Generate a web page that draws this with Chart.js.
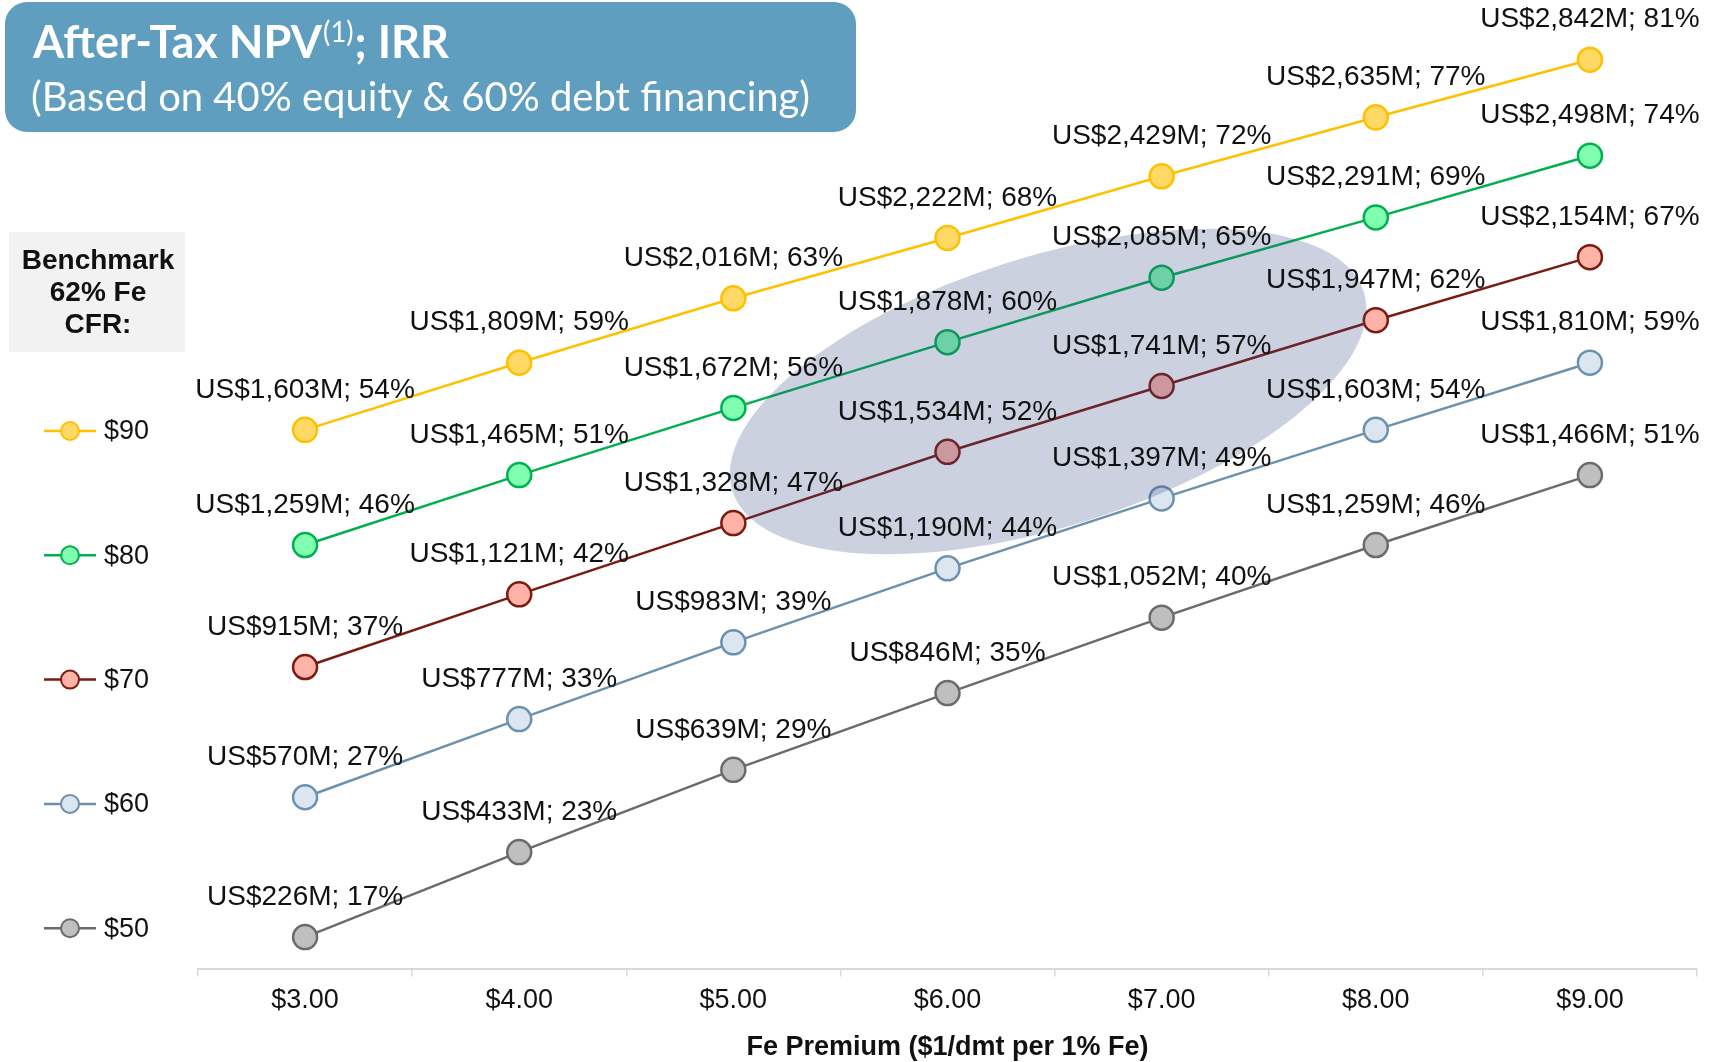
<!DOCTYPE html>
<html><head><meta charset="utf-8">
<script src="https://cdn.jsdelivr.net/npm/chart.js@4.4.1/dist/chart.umd.min.js"></script>
<style>html,body{margin:0;padding:0;background:#fff;} #wrap{width:1716px;height:1062px;position:relative;}</style>
</head><body><div id="wrap"><canvas id="c" width="1716" height="1062"></canvas></div>
<script>
// ---- data ----
const categories = ['$3.00','$4.00','$5.00','$6.00','$7.00','$8.00','$9.00'];
const seriesNames = ['$90','$80','$70','$60','$50'];

// After-tax NPV (US$M)
const npv90 = [1603,1809,2016,2222,2429,2635,2842];
const npv80 = [1259,1465,1672,1878,2085,2291,2498];
const npv70 = [915,1121,1328,1534,1741,1947,2154];
const npv60 = [570,777,983,1190,1397,1603,1810];
const npv50 = [226,433,639,846,1052,1259,1466];

// IRR (%) as printed in the labels
const irrLabel90 = [54,59,63,68,72,77,81];
const irrLabel80 = [46,51,56,60,65,69,74];
const irrLabel70 = [37,42,47,52,57,62,67];
const irrLabel60 = [27,33,39,44,49,54,59];
const irrLabel50 = [17,23,29,35,40,46,51];

// IRR (%) as plotted
const irrPlot90 = [54.0,58.9,63.6,68.0,72.5,76.8,81.0];
const irrPlot80 = [45.6,50.7,55.6,60.4,65.1,69.5,74.0];
const irrPlot70 = [36.7,42.0,47.2,52.4,57.2,62.0,66.6];
const irrPlot60 = [27.2,32.9,38.5,43.9,49.0,54.0,58.9];
const irrPlot50 = [17.0,23.2,29.2,34.8,40.3,45.6,50.7];

const titleLine1 = 'After-Tax NPV';
const titleSup = '(1)';
const titleLine1b = '; IRR';
const titleLine2 = '(Based on 40% equity & 60% debt financing)';
const legendTitle = ['Benchmark','62% Fe','CFR:'];
const xAxisTitle = 'Fe Premium ($1/dmt per 1% Fe)';

// highlighted zone (data coordinates: category index, IRR %)
const highlightCenter = [3.47, 56.8];

// ---- styling ----
const FONT = "'Liberation Sans', Arial, sans-serif";
const lineColors = ['#FFC000','#00B050','#7B1A0E','#6C91AF','#6B6B6B'];
const fillColors = ['#FFD966','#80FFB0','#FFB3A8','#DCE6F0','#BFBFBF'];

const npvs = [npv90,npv80,npv70,npv60,npv50];
const irrLabels = [irrLabel90,irrLabel80,irrLabel70,irrLabel60,irrLabel50];
const irrPlots = [irrPlot90,irrPlot80,irrPlot70,irrPlot60,irrPlot50];

const datasets = seriesNames.map((name, d) => ({
  label: name,
  data: irrPlots[d],
  borderColor: lineColors[d],
  backgroundColor: fillColors[d],
  pointBackgroundColor: fillColors[d],
  pointBorderColor: lineColors[d],
  pointRadius: 12,
  pointBorderWidth: 2.5,
  borderWidth: 2.5,
  tension: 0,
  clip: false
}));

const highlightPlugin = {
  id: 'highlight',
  afterDatasetsDraw(chart) {
    const {ctx} = chart;
    const xs = chart.scales.x, ys = chart.scales.y;
    const cx = xs.getPixelForValue(highlightCenter[0]);
    const cy = ys.getPixelForValue(highlightCenter[1]);
    ctx.save();
    ctx.beginPath();
    ctx.ellipse(cx, cy, 331, 135, -17.5 * Math.PI / 180, 0, Math.PI * 2);
    ctx.fillStyle = 'rgba(50,70,130,0.25)';
    ctx.fill();
    ctx.restore();
  }
};

const labelPlugin = {
  id: 'pointLabels',
  afterDatasetsDraw(chart) {
    const {ctx} = chart;
    ctx.save();
    ctx.font = '28px ' + FONT;
    ctx.fillStyle = '#111';
    ctx.textAlign = 'center';
    ctx.textBaseline = 'middle';
    chart.data.datasets.forEach((ds, d) => {
      const meta = chart.getDatasetMeta(d);
      meta.data.forEach((pt, i) => {
        const txt = 'US$' + npvs[d][i].toLocaleString('en-US') + 'M; ' + irrLabels[d][i] + '%';
        ctx.fillText(txt, pt.x, pt.y - 40);
      });
    });
    ctx.restore();
  }
};

const decorPlugin = {
  id: 'decor',
  afterDraw(chart) {
    const {ctx} = chart;
    ctx.save();
    // title box
    ctx.fillStyle = '#609EBF';
    ctx.beginPath();
    ctx.roundRect(5, 2, 851, 130, 22);
    ctx.fill();
    ctx.fillStyle = '#fff';
    ctx.textBaseline = 'alphabetic';
    ctx.textAlign = 'left';
    const bigF = "bold 46px Lato, 'Open Sans', sans-serif";
    const supF = "28px Lato, 'Open Sans', sans-serif";
    ctx.font = bigF; const w1 = ctx.measureText(titleLine1).width; const w3 = ctx.measureText(titleLine1b).width;
    ctx.font = supF; const w2 = ctx.measureText(titleSup).width;
    const sx = 414 / (w1 + w2 + w3);
    ctx.save();
    ctx.translate(33, 58);
    ctx.scale(sx, 1);
    ctx.font = bigF; ctx.fillText(titleLine1, 0, 0);
    ctx.font = supF; ctx.fillText(titleSup, w1 + 1, -16);
    ctx.font = bigF; ctx.fillText(titleLine1b, w1 + w2 + 2, 0);
    ctx.restore();
    ctx.font = "40px Lato, 'Open Sans', sans-serif";
    ctx.fillText(titleLine2, 31, 111, 779);

    // legend box
    ctx.fillStyle = '#F2F2F2';
    ctx.fillRect(9, 232, 176, 120);
    ctx.fillStyle = '#111';
    ctx.textAlign = 'center';
    ctx.textBaseline = 'middle';
    ctx.font = 'bold 28px ' + FONT;
    legendTitle.forEach((t, k) => ctx.fillText(t, 98, 261 + k * 32));

    // legend items
    chart.data.datasets.forEach((ds, d) => {
      const y = 431 + d * 124.3;
      ctx.strokeStyle = ds.borderColor;
      ctx.lineWidth = 2.5;
      ctx.beginPath(); ctx.moveTo(44, y); ctx.lineTo(96, y); ctx.stroke();
      ctx.beginPath(); ctx.arc(70, y, 9, 0, Math.PI * 2);
      ctx.fillStyle = ds.pointBackgroundColor; ctx.fill();
      ctx.lineWidth = 2; ctx.stroke();
      ctx.fillStyle = '#111';
      ctx.textAlign = 'left';
      ctx.font = '27px ' + FONT;
      ctx.fillText(ds.label, 104, y + 1);
    });
    ctx.restore();
  }
};

new Chart(document.getElementById('c'), {
  type: 'line',
  data: { labels: categories, datasets },
  options: {
    responsive: false,
    animation: false,
    devicePixelRatio: 1,
    layout: { padding: { left: 198, right: 19, top: 4, bottom: 0 } },
    plugins: { legend: { display: false }, tooltip: { enabled: false } },
    scales: {
      x: {
        type: 'category',
        offset: true,
        grid: { drawOnChartArea: false, drawTicks: true, tickLength: 8, color: '#D9D9D9', lineWidth: 1.5, offset: true },
        border: { display: true, color: '#D9D9D9', width: 2 },
        ticks: { font: { size: 27, family: FONT, lineHeight: 1.1 }, color: '#111', padding: 9 },
        title: { display: true, text: xAxisTitle, color: '#111', font: { size: 27, weight: 'bold', family: FONT, lineHeight: 1.1 }, padding: { top: 8, bottom: 0 } }
      },
      y: { display: false, min: 14.7, max: 84.3 }
    }
  },
  plugins: [highlightPlugin, labelPlugin, decorPlugin]
});
</script>
</body></html>
